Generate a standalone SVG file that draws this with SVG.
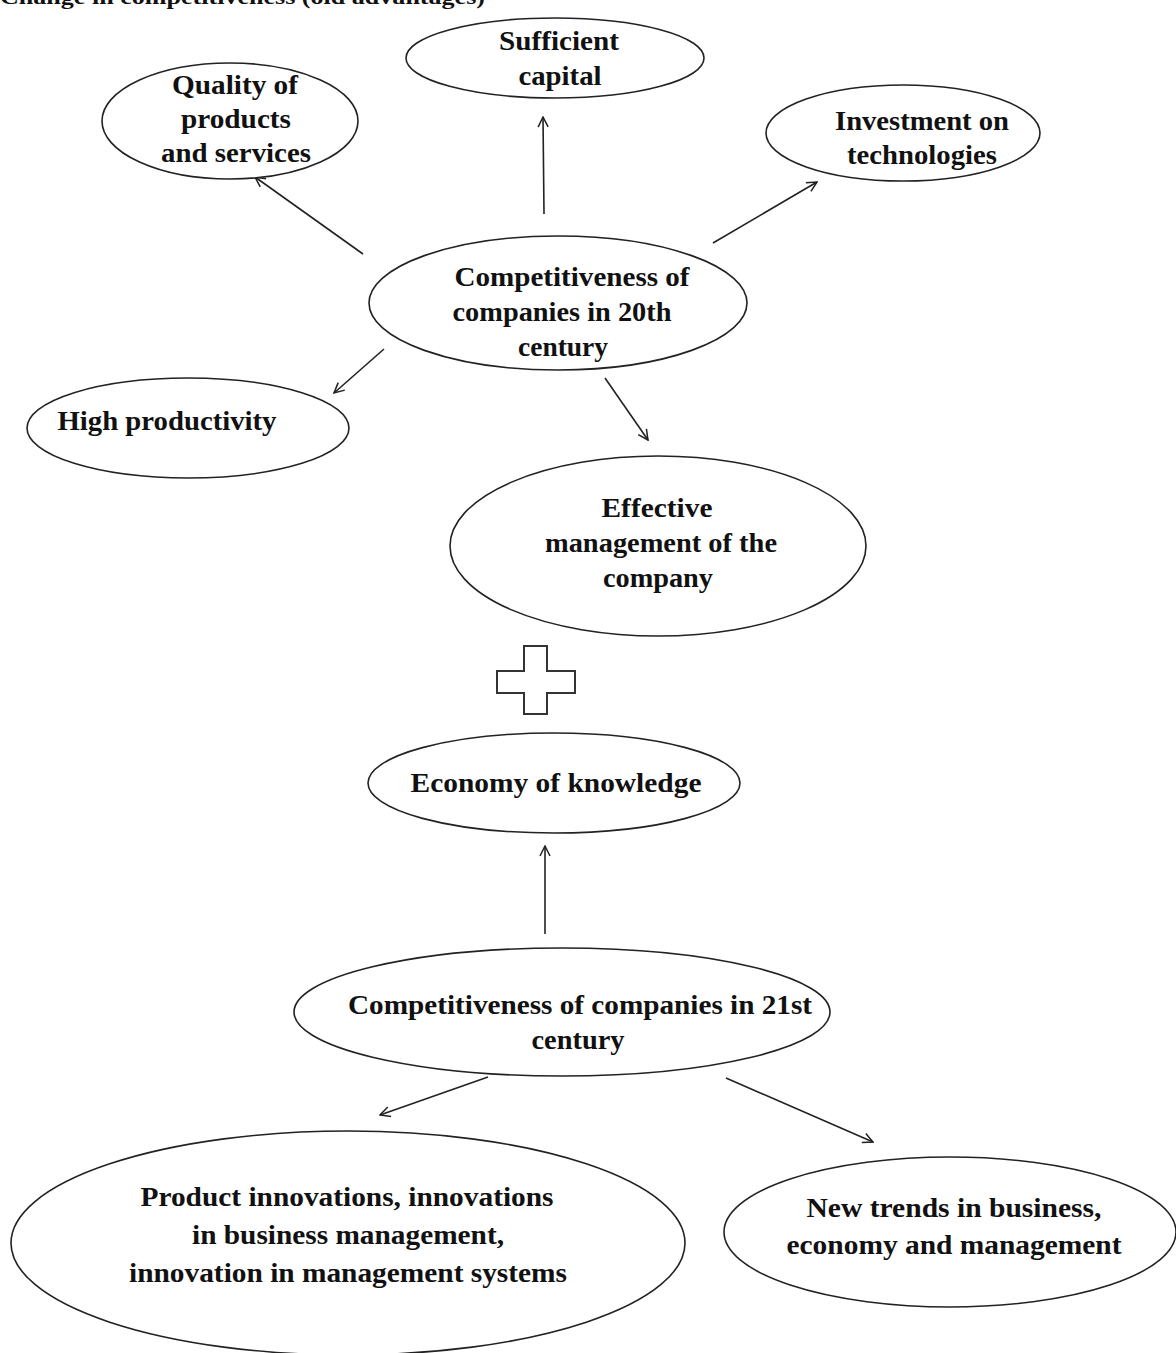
<svg xmlns="http://www.w3.org/2000/svg" width="1176" height="1353" viewBox="0 0 1176 1353">
<defs>
<marker id="ah" viewBox="0 0 12 12" refX="11" refY="6" markerWidth="12" markerHeight="12" markerUnits="userSpaceOnUse" orient="auto">
<path d="M1,1 L11,6 L1,11" fill="none" stroke="#222" stroke-width="1.5"/>
</marker>
<style>
.n ellipse{fill:#fff;stroke:#222;stroke-width:1.6}
text{font-family:"Liberation Serif","Times New Roman",serif;font-weight:bold;font-size:27px;fill:#111;text-anchor:middle}
.c line{stroke:#222;stroke-width:1.6;marker-end:url(#ah)}
</style>
</defs>
<rect width="1176" height="1353" fill="#fff"/>
<text x="0" y="4" style="text-anchor:start;font-size:22px" textLength="485" lengthAdjust="spacingAndGlyphs">Change in competitiveness (old advantages)</text>
<g class="c" id="connectors">
<line x1="544" y1="214" x2="543" y2="117"/>
<line x1="363" y1="254" x2="255" y2="177"/>
<line x1="713" y1="243" x2="817" y2="182"/>
<line x1="384" y1="349" x2="334" y2="393"/>
<line x1="605" y1="378" x2="648" y2="440"/>
<line x1="545" y1="934" x2="545" y2="846"/>
<line x1="488" y1="1077" x2="380" y2="1115"/>
<line x1="726" y1="1078" x2="873" y2="1142"/>
</g>
<g class="n" id="sufficient-capital"><ellipse cx="555" cy="58" rx="149" ry="40"/><text x="559" y="50" textLength="120" lengthAdjust="spacingAndGlyphs">Sufficient</text><text x="560" y="85" textLength="83" lengthAdjust="spacingAndGlyphs">capital</text></g>
<g class="n" id="quality"><ellipse cx="230" cy="121" rx="128" ry="58"/><text x="235" y="94" textLength="126" lengthAdjust="spacingAndGlyphs">Quality of</text><text x="236" y="128" textLength="110" lengthAdjust="spacingAndGlyphs">products</text><text x="236" y="162" textLength="150" lengthAdjust="spacingAndGlyphs">and services</text></g>
<g class="n" id="investment"><ellipse cx="903" cy="133" rx="137" ry="48"/><text x="922" y="130" textLength="174" lengthAdjust="spacingAndGlyphs">Investment on</text><text x="922" y="164" textLength="150" lengthAdjust="spacingAndGlyphs">technologies</text></g>
<g class="n" id="comp20"><ellipse cx="558" cy="303" rx="189" ry="67"/><text x="572" y="286" textLength="235" lengthAdjust="spacingAndGlyphs">Competitiveness of</text><text x="562" y="321" textLength="219" lengthAdjust="spacingAndGlyphs">companies in 20th</text><text x="563" y="356" textLength="90" lengthAdjust="spacingAndGlyphs">century</text></g>
<g class="n" id="high-productivity"><ellipse cx="188" cy="428" rx="161" ry="50"/><text x="167" y="430" textLength="219" lengthAdjust="spacingAndGlyphs">High productivity</text></g>
<g class="n" id="effective-management"><ellipse cx="658" cy="546" rx="208" ry="90"/><text x="657" y="517" textLength="111" lengthAdjust="spacingAndGlyphs">Effective</text><text x="661" y="552" textLength="232" lengthAdjust="spacingAndGlyphs">management of the</text><text x="658" y="587" textLength="110" lengthAdjust="spacingAndGlyphs">company</text></g>
<g id="plus"><path d="M524,646 H547 V671 H575 V693 H547 V714 H524 V693 H497 V671 H524 Z" fill="#fff" stroke="#333" stroke-width="2"/></g>
<g class="n" id="economy-knowledge"><ellipse cx="554" cy="783" rx="186" ry="50"/><text x="556" y="792" textLength="291" lengthAdjust="spacingAndGlyphs">Economy of knowledge</text></g>
<g class="n" id="comp21"><ellipse cx="562" cy="1012" rx="268" ry="64"/><text x="580" y="1014" textLength="464" lengthAdjust="spacingAndGlyphs">Competitiveness of companies in 21st</text><text x="578" y="1049" textLength="93" lengthAdjust="spacingAndGlyphs">century</text></g>
<g class="n" id="product-innovations"><ellipse cx="348" cy="1243" rx="337" ry="112"/><text x="347" y="1206" textLength="413" lengthAdjust="spacingAndGlyphs">Product innovations, innovations</text><text x="348" y="1244" textLength="312" lengthAdjust="spacingAndGlyphs">in business management,</text><text x="348" y="1282" textLength="438" lengthAdjust="spacingAndGlyphs">innovation in management systems</text></g>
<g class="n" id="new-trends"><ellipse cx="950" cy="1232" rx="226" ry="75"/><text x="954" y="1217" textLength="295" lengthAdjust="spacingAndGlyphs">New trends in business,</text><text x="954" y="1254" textLength="335" lengthAdjust="spacingAndGlyphs">economy and management</text></g>
</svg>
